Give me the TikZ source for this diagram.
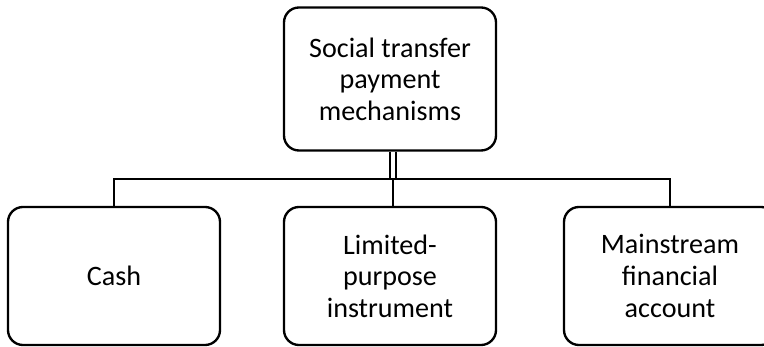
\documentclass[tikz,border=0pt]{standalone}
\usepackage{fontspec}
\setmainfont{Carlito}
\tikzset{
	mechbox/.style={draw, line width=2pt, rounded corners=0.45cm, align=center,
		minimum width=6.36cm, font=\fontsize{24}{27}\selectfont, inner sep=0pt},
	link/.style={line width=1.7pt}
}
\begin{document}
\begin{tikzpicture}[x=0.03cm, y=-0.03cm]
		\useasboundingbox (0,0) rectangle (764,347);

		\node[mechbox, minimum height=4.29cm] (stpm) at (390,79) {Social transfer\\payment\\mechanisms};

		\node[mechbox, minimum height=4.14cm] (cash) at (114,276) {Cash};
		\node[mechbox, minimum height=4.14cm] (lpi) at (390,276) {Limited-\\purpose\\instrument};
		\node[mechbox, minimum height=4.14cm] (mfa) at (670,276) {Mainstream\\financial\\account};

		\coordinate (bar) at (393,179);

		\draw[link, double, double distance=2.8pt] (stpm.south -| bar) -- (bar);
		\draw[link] (cash.north) |- (bar) -| (mfa.north);
		\draw[link] (bar) -- (lpi.north -| bar);
	\end{tikzpicture}
\end{document}
